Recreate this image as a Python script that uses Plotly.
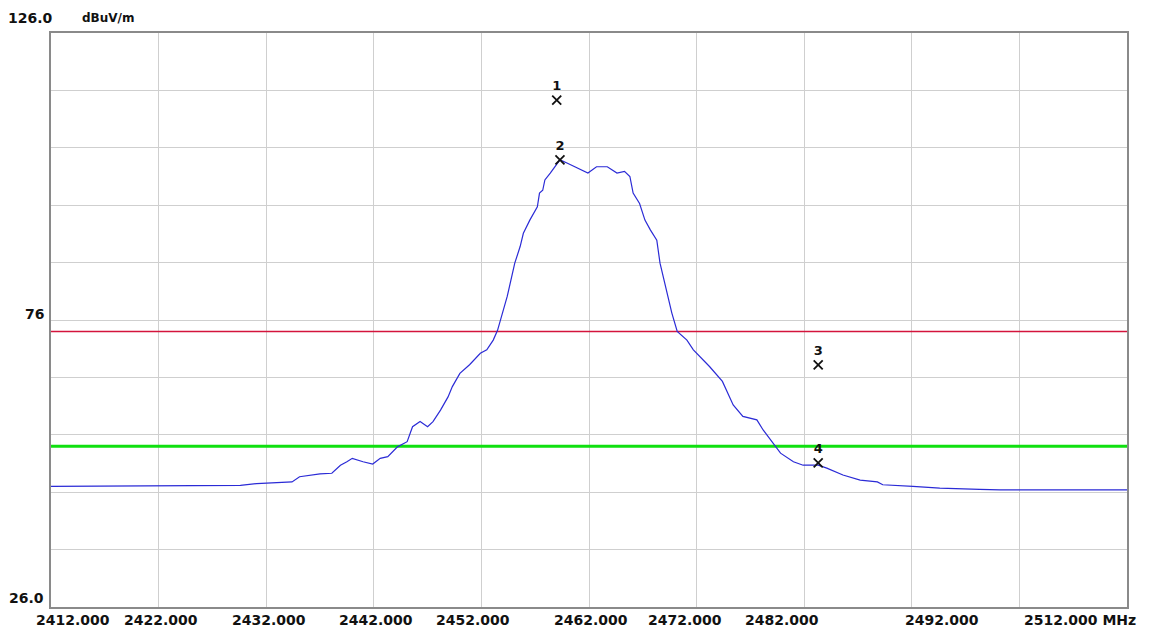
import plotly.graph_objects as go

# ---- data ----
freq = [2412.0, 2429.6, 2431.1, 2434.4, 2435.1, 2437.0, 2438.1, 2438.9, 2439.5, 2440.0,
        2441.0, 2441.9, 2442.6, 2443.3, 2444.2, 2445.1, 2445.6, 2446.3, 2447.0, 2447.5,
        2448.2, 2448.9, 2449.3, 2450.0, 2450.9, 2451.9, 2452.5, 2453.1, 2453.5, 2454.4,
        2455.1, 2455.6, 2455.9, 2456.5, 2457.2, 2457.4, 2457.7, 2457.9, 2458.4, 2458.8,
        2459.3, 2460.0, 2460.9, 2461.9, 2462.7, 2463.7, 2464.6, 2465.3, 2465.8, 2466.1,
        2466.7, 2467.2, 2467.7, 2468.3, 2468.6, 2469.2, 2469.7, 2470.2, 2471.1, 2471.7,
        2473.2, 2474.4, 2475.4, 2476.3, 2477.6, 2478.2, 2479.3, 2479.8, 2481.0, 2481.9,
        2483.3, 2484.1, 2485.6, 2487.2, 2488.8, 2489.3, 2492.1, 2494.6, 2498.3, 2500.2,
        2512.0]
level = [47.0, 47.2, 47.5, 47.8, 48.7, 49.2, 49.3, 50.7, 51.3, 51.9,
         51.3, 50.9, 51.9, 52.2, 53.9, 54.8, 57.4, 58.3, 57.4, 58.3,
         60.3, 62.6, 64.4, 66.7, 68.2, 70.2, 70.8, 72.5, 74.2, 80.1,
         85.9, 88.8, 91.1, 93.4, 95.7, 98.1, 98.6, 100.4, 101.6, 102.7,
         103.9, 103.3, 102.5, 101.6, 102.7, 102.7, 101.6, 101.9, 101.0, 98.1,
         96.3, 93.4, 91.7, 89.9, 85.9, 81.2, 77.2, 74.0, 72.5, 70.8,
         67.9, 65.3, 61.2, 59.2, 58.6, 56.8, 53.9, 52.8, 51.3, 50.7,
         50.7, 50.2, 49.0, 48.1, 47.8, 47.3, 47.0, 46.7, 46.5, 46.4,
         46.4]

limit_peak = 74.0
limit_avg = 54.0

marker_ids = ["1", "2", "3", "4"]
marker_freq = [2459.0, 2459.3, 2483.3, 2483.3]
marker_level = [114.3, 103.9, 68.2, 51.1]

x_grid = [2412, 2422, 2432, 2442, 2452, 2462, 2472, 2482, 2492, 2502, 2512]
x_labels = ["2412.000", "2422.000", "2432.000", "2442.000", "2452.000",
            "2462.000", "2472.000", "2482.000", "2492.000", "2512.000 MHz"]
# where the instrument printed each label (MHz)
x_label_pos = [2414.0, 2422.2, 2432.3, 2442.2, 2451.2, 2462.2, 2470.9, 2479.9, 2494.8, 2507.6]

y_min, y_max = 26.0, 126.0
y_grid = [26, 36, 46, 56, 66, 76, 86, 96, 106, 116, 126]
unit = "dBuV/m"

FONT = "DejaVu Sans"
f_lbl = dict(family=FONT, size=14, color="#111111")

fig = go.Figure()
fig.add_trace(go.Scatter(x=[x_grid[0], x_grid[-1]], y=[limit_peak, limit_peak], mode="lines",
                         line=dict(color="#d4143c", width=1.5), hoverinfo="skip"))
fig.add_trace(go.Scatter(x=[x_grid[0], x_grid[-1]], y=[limit_avg, limit_avg], mode="lines",
                         line=dict(color="#10e010", width=3), hoverinfo="skip"))
fig.add_trace(go.Scatter(x=freq, y=level, mode="lines",
                         line=dict(color="#2b2bd6", width=1.2)))
fig.add_trace(go.Scatter(x=marker_freq, y=marker_level, mode="markers+text",
                         text=["<b>%s</b>" % m for m in marker_ids], textposition="top center",
                         textfont=dict(family=FONT, size=13, color="#111111"),
                         marker=dict(symbol="x-thin-open", size=9, color="#111111",
                                     line=dict(color="#111111", width=1.8))))

annotations = []
for pos, lab in zip(x_label_pos, x_labels):
    annotations.append(dict(x=pos, y=0, xref="x", yref="paper", yanchor="top",
                            xanchor="center", yshift=-3, showarrow=False,
                            text="<b>%s</b>" % lab, font=f_lbl))
annotations += [
    dict(x=0, y=y_max, xref="paper", yref="y", xanchor="right", yanchor="middle",
         xshift=4, yshift=15, showarrow=False, text="<b>126.0</b>", font=f_lbl),
    dict(x=0, y=y_max, xref="paper", yref="y", xanchor="left", yanchor="middle",
         xshift=29, yshift=15, showarrow=False, text="<b>%s</b>" % unit,
         font=dict(family=FONT, size=12, color="#111111")),
    dict(x=0, y=76, xref="paper", yref="y", xanchor="right", yanchor="middle",
         xshift=-5, yshift=6, showarrow=False, text="<b>76</b>", font=f_lbl),
    dict(x=0, y=y_min, xref="paper", yref="y", xanchor="right", yanchor="middle",
         xshift=-5, yshift=9, showarrow=False, text="<b>26.0</b>", font=f_lbl),
]

fig.update_layout(
    width=1173, height=632,
    margin=dict(l=51, r=46, t=33, b=25),
    paper_bgcolor="white", plot_bgcolor="white",
    showlegend=False,
    annotations=annotations,
    xaxis=dict(range=[x_grid[0], x_grid[-1]], tickvals=x_grid, showticklabels=False,
               ticks="", showgrid=True, gridcolor="#cfcfcf", gridwidth=1,
               showline=True, linecolor="#8a8a8a", linewidth=2, mirror=True,
               zeroline=False, fixedrange=True),
    yaxis=dict(range=[y_min, y_max], tickvals=y_grid, showticklabels=False,
               ticks="", showgrid=True, gridcolor="#cfcfcf", gridwidth=1,
               showline=True, linecolor="#8a8a8a", linewidth=2, mirror=True,
               zeroline=False, fixedrange=True),
)

fig.write_html("out.html", config={"displayModeBar": False},
               post_script="document.body.style.margin='0';document.body.style.overflow='hidden';")
